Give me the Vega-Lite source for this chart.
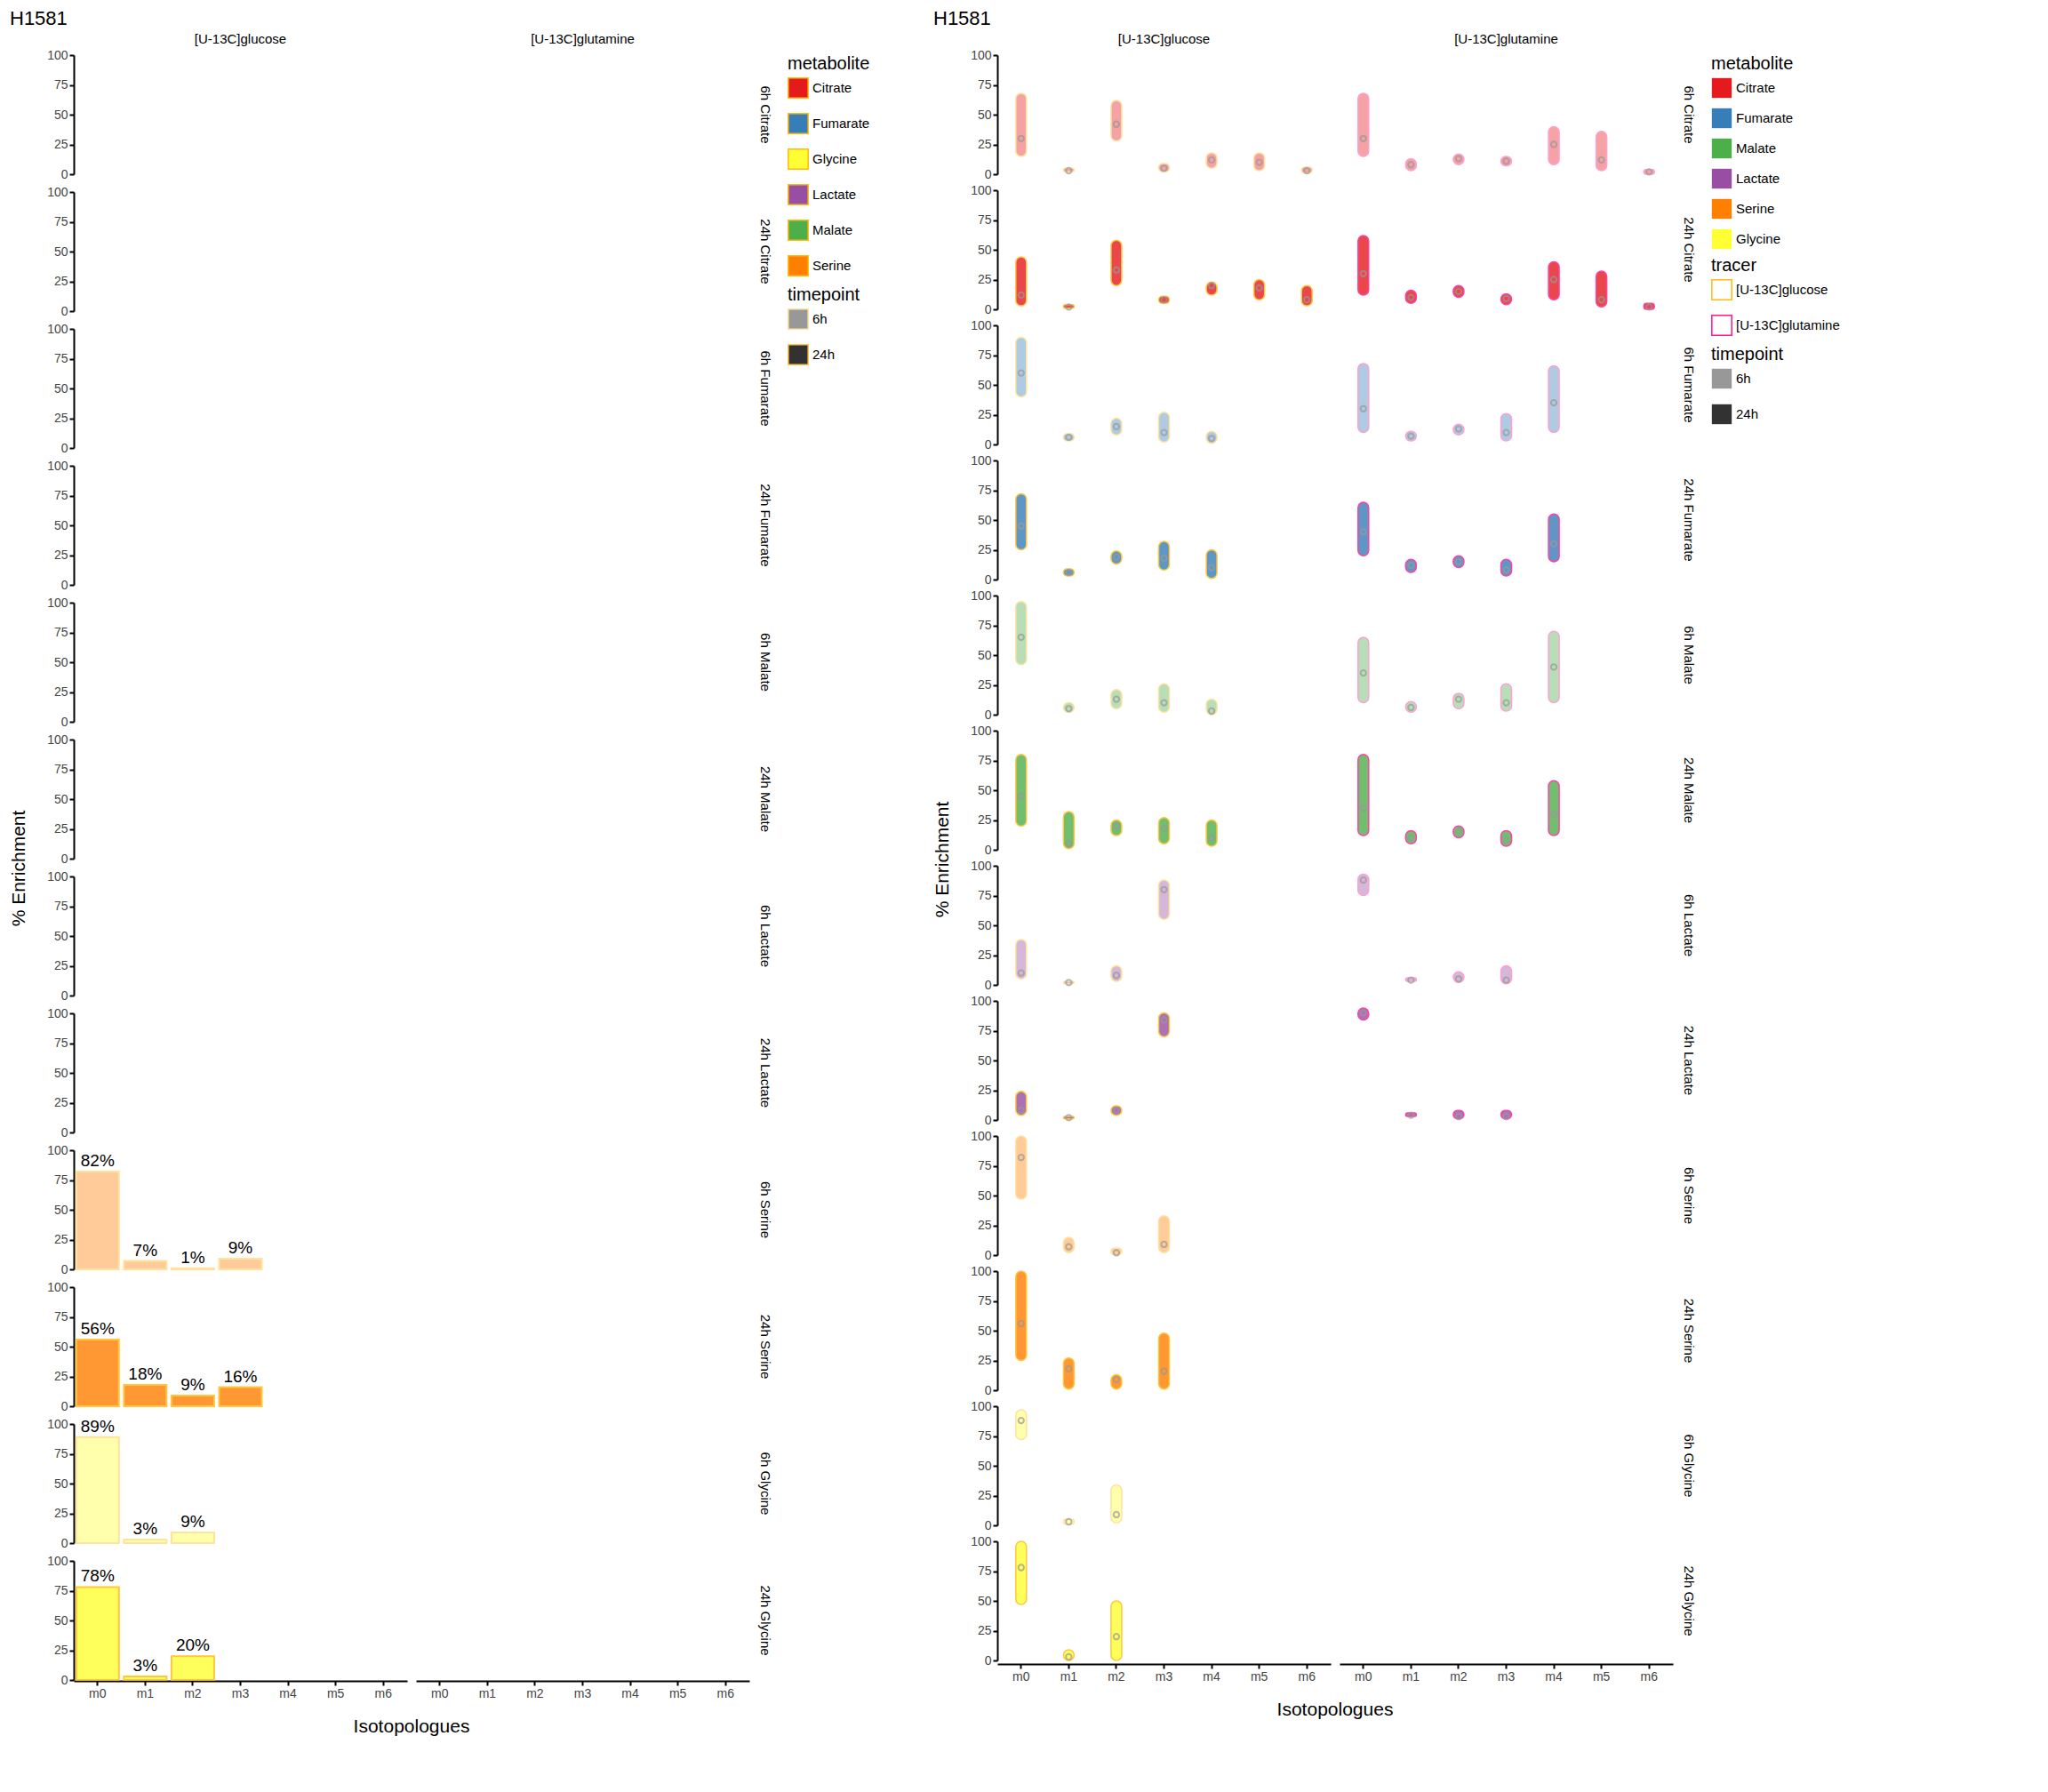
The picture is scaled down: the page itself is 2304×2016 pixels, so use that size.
{
"$schema":"https://vega.github.io/schema/vega-lite/v6.json",
"background":"white",
"padding":{"left":10,"top":10,"right":10,"bottom":5},
"config":{"font":"Liberation Sans","view":{"stroke":null},"axis":{"labelFontSize":14,"labelOverlap":false,"domainColor":"black","domainWidth":2,"tickColor":"black","tickWidth":2,"labelColor":"#444","grid":false},"axisY":{"values":[0,25,50,75,100],"tickCount":5},"legend":{"titleFontSize":20,"titleFontWeight":"normal","labelFontSize":15,"symbolSize":500,"symbolType":"square","rowPadding":10},"header":{"labelFontSize":15,"titleFontSize":21,"titleFontWeight":"normal"},"title":{"fontSize":22,"fontWeight":"normal","anchor":"start"}},
"datasets":{"d":[
{"p":"Citrate|6h","c":"[U-13C]glucose"},{"p":"Citrate|6h","c":"[U-13C]glutamine"},
{"p":"Citrate|24h","c":"[U-13C]glucose"},{"p":"Citrate|24h","c":"[U-13C]glutamine"},
{"p":"Fumarate|6h","c":"[U-13C]glucose"},{"p":"Fumarate|6h","c":"[U-13C]glutamine"},
{"p":"Fumarate|24h","c":"[U-13C]glucose"},{"p":"Fumarate|24h","c":"[U-13C]glutamine"},
{"p":"Malate|6h","c":"[U-13C]glucose"},{"p":"Malate|6h","c":"[U-13C]glutamine"},
{"p":"Malate|24h","c":"[U-13C]glucose"},{"p":"Malate|24h","c":"[U-13C]glutamine"},
{"p":"Lactate|6h","c":"[U-13C]glucose"},{"p":"Lactate|6h","c":"[U-13C]glutamine"},
{"p":"Lactate|24h","c":"[U-13C]glucose"},{"p":"Lactate|24h","c":"[U-13C]glutamine"},
{"p":"Serine|6h","c":"[U-13C]glucose"},{"p":"Serine|6h","c":"[U-13C]glutamine"},
{"p":"Serine|24h","c":"[U-13C]glucose"},{"p":"Serine|24h","c":"[U-13C]glutamine"},
{"p":"Glycine|6h","c":"[U-13C]glucose"},{"p":"Glycine|6h","c":"[U-13C]glutamine"},
{"p":"Glycine|24h","c":"[U-13C]glucose"},{"p":"Glycine|24h","c":"[U-13C]glutamine"},
{"p":"Serine|6h","c":"[U-13C]glucose","m":"Serine","t":"6h","iso":"m0","pct":82,"lab":"82%"},
{"p":"Serine|6h","c":"[U-13C]glucose","m":"Serine","t":"6h","iso":"m1","pct":7,"lab":"7%"},
{"p":"Serine|6h","c":"[U-13C]glucose","m":"Serine","t":"6h","iso":"m2","pct":1,"lab":"1%"},
{"p":"Serine|6h","c":"[U-13C]glucose","m":"Serine","t":"6h","iso":"m3","pct":9,"lab":"9%"},
{"p":"Serine|24h","c":"[U-13C]glucose","m":"Serine","t":"24h","iso":"m0","pct":56,"lab":"56%"},
{"p":"Serine|24h","c":"[U-13C]glucose","m":"Serine","t":"24h","iso":"m1","pct":18,"lab":"18%"},
{"p":"Serine|24h","c":"[U-13C]glucose","m":"Serine","t":"24h","iso":"m2","pct":9,"lab":"9%"},
{"p":"Serine|24h","c":"[U-13C]glucose","m":"Serine","t":"24h","iso":"m3","pct":16,"lab":"16%"},
{"p":"Glycine|6h","c":"[U-13C]glucose","m":"Glycine","t":"6h","iso":"m0","pct":89,"lab":"89%"},
{"p":"Glycine|6h","c":"[U-13C]glucose","m":"Glycine","t":"6h","iso":"m1","pct":3,"lab":"3%"},
{"p":"Glycine|6h","c":"[U-13C]glucose","m":"Glycine","t":"6h","iso":"m2","pct":9,"lab":"9%"},
{"p":"Glycine|24h","c":"[U-13C]glucose","m":"Glycine","t":"24h","iso":"m0","pct":78,"lab":"78%"},
{"p":"Glycine|24h","c":"[U-13C]glucose","m":"Glycine","t":"24h","iso":"m1","pct":3,"lab":"3%"},
{"p":"Glycine|24h","c":"[U-13C]glucose","m":"Glycine","t":"24h","iso":"m2","pct":20,"lab":"20%"},
{"p":"Citrate|6h","c":"[U-13C]glucose","m":"Citrate","t":"6h","iso":"m0","lo":15,"hi":68,"med":30},
{"p":"Citrate|6h","c":"[U-13C]glucose","m":"Citrate","t":"6h","iso":"m1","lo":2,"hi":5,"med":3},
{"p":"Citrate|6h","c":"[U-13C]glucose","m":"Citrate","t":"6h","iso":"m2","lo":28,"hi":62,"med":42},
{"p":"Citrate|6h","c":"[U-13C]glucose","m":"Citrate","t":"6h","iso":"m3","lo":2,"hi":9,"med":5},
{"p":"Citrate|6h","c":"[U-13C]glucose","m":"Citrate","t":"6h","iso":"m4","lo":5,"hi":18,"med":12},
{"p":"Citrate|6h","c":"[U-13C]glucose","m":"Citrate","t":"6h","iso":"m5","lo":3,"hi":18,"med":10},
{"p":"Citrate|6h","c":"[U-13C]glucose","m":"Citrate","t":"6h","iso":"m6","lo":1,"hi":6,"med":3},
{"p":"Citrate|24h","c":"[U-13C]glucose","m":"Citrate","t":"24h","iso":"m0","lo":3,"hi":44,"med":12},
{"p":"Citrate|24h","c":"[U-13C]glucose","m":"Citrate","t":"24h","iso":"m1","lo":1,"hi":4,"med":2},
{"p":"Citrate|24h","c":"[U-13C]glucose","m":"Citrate","t":"24h","iso":"m2","lo":20,"hi":58,"med":33},
{"p":"Citrate|24h","c":"[U-13C]glucose","m":"Citrate","t":"24h","iso":"m3","lo":5,"hi":11,"med":8},
{"p":"Citrate|24h","c":"[U-13C]glucose","m":"Citrate","t":"24h","iso":"m4","lo":12,"hi":23,"med":20},
{"p":"Citrate|24h","c":"[U-13C]glucose","m":"Citrate","t":"24h","iso":"m5","lo":8,"hi":25,"med":18},
{"p":"Citrate|24h","c":"[U-13C]glucose","m":"Citrate","t":"24h","iso":"m6","lo":3,"hi":20,"med":8},
{"p":"Citrate|6h","c":"[U-13C]glutamine","m":"Citrate","t":"6h","iso":"m0","lo":15,"hi":68,"med":30},
{"p":"Citrate|6h","c":"[U-13C]glutamine","m":"Citrate","t":"6h","iso":"m1","lo":3,"hi":13,"med":8},
{"p":"Citrate|6h","c":"[U-13C]glutamine","m":"Citrate","t":"6h","iso":"m2","lo":8,"hi":17,"med":13},
{"p":"Citrate|6h","c":"[U-13C]glutamine","m":"Citrate","t":"6h","iso":"m3","lo":7,"hi":15,"med":11},
{"p":"Citrate|6h","c":"[U-13C]glutamine","m":"Citrate","t":"6h","iso":"m4","lo":8,"hi":40,"med":25},
{"p":"Citrate|6h","c":"[U-13C]glutamine","m":"Citrate","t":"6h","iso":"m5","lo":3,"hi":36,"med":12},
{"p":"Citrate|6h","c":"[U-13C]glutamine","m":"Citrate","t":"6h","iso":"m6","lo":0,"hi":4,"med":2},
{"p":"Citrate|24h","c":"[U-13C]glutamine","m":"Citrate","t":"24h","iso":"m0","lo":12,"hi":62,"med":30},
{"p":"Citrate|24h","c":"[U-13C]glutamine","m":"Citrate","t":"24h","iso":"m1","lo":5,"hi":16,"med":10},
{"p":"Citrate|24h","c":"[U-13C]glutamine","m":"Citrate","t":"24h","iso":"m2","lo":10,"hi":20,"med":15},
{"p":"Citrate|24h","c":"[U-13C]glutamine","m":"Citrate","t":"24h","iso":"m3","lo":4,"hi":13,"med":9},
{"p":"Citrate|24h","c":"[U-13C]glutamine","m":"Citrate","t":"24h","iso":"m4","lo":8,"hi":40,"med":25},
{"p":"Citrate|24h","c":"[U-13C]glutamine","m":"Citrate","t":"24h","iso":"m5","lo":2,"hi":32,"med":8},
{"p":"Citrate|24h","c":"[U-13C]glutamine","m":"Citrate","t":"24h","iso":"m6","lo":0,"hi":5,"med":2},
{"p":"Fumarate|6h","c":"[U-13C]glucose","m":"Fumarate","t":"6h","iso":"m0","lo":40,"hi":90,"med":60},
{"p":"Fumarate|6h","c":"[U-13C]glucose","m":"Fumarate","t":"6h","iso":"m1","lo":3,"hi":9,"med":6},
{"p":"Fumarate|6h","c":"[U-13C]glucose","m":"Fumarate","t":"6h","iso":"m2","lo":8,"hi":22,"med":15},
{"p":"Fumarate|6h","c":"[U-13C]glucose","m":"Fumarate","t":"6h","iso":"m3","lo":2,"hi":27,"med":10},
{"p":"Fumarate|6h","c":"[U-13C]glucose","m":"Fumarate","t":"6h","iso":"m4","lo":1,"hi":11,"med":5},
{"p":"Fumarate|6h","c":"[U-13C]glutamine","m":"Fumarate","t":"6h","iso":"m0","lo":10,"hi":68,"med":30},
{"p":"Fumarate|6h","c":"[U-13C]glutamine","m":"Fumarate","t":"6h","iso":"m1","lo":3,"hi":11,"med":7},
{"p":"Fumarate|6h","c":"[U-13C]glutamine","m":"Fumarate","t":"6h","iso":"m2","lo":8,"hi":17,"med":13},
{"p":"Fumarate|6h","c":"[U-13C]glutamine","m":"Fumarate","t":"6h","iso":"m3","lo":3,"hi":26,"med":10},
{"p":"Fumarate|6h","c":"[U-13C]glutamine","m":"Fumarate","t":"6h","iso":"m4","lo":10,"hi":66,"med":35},
{"p":"Fumarate|24h","c":"[U-13C]glucose","m":"Fumarate","t":"24h","iso":"m0","lo":25,"hi":72,"med":45},
{"p":"Fumarate|24h","c":"[U-13C]glucose","m":"Fumarate","t":"24h","iso":"m1","lo":3,"hi":9,"med":6},
{"p":"Fumarate|24h","c":"[U-13C]glucose","m":"Fumarate","t":"24h","iso":"m2","lo":13,"hi":24,"med":19},
{"p":"Fumarate|24h","c":"[U-13C]glucose","m":"Fumarate","t":"24h","iso":"m3","lo":8,"hi":32,"med":18},
{"p":"Fumarate|24h","c":"[U-13C]glucose","m":"Fumarate","t":"24h","iso":"m4","lo":1,"hi":25,"med":10},
{"p":"Fumarate|24h","c":"[U-13C]glutamine","m":"Fumarate","t":"24h","iso":"m0","lo":20,"hi":65,"med":40},
{"p":"Fumarate|24h","c":"[U-13C]glutamine","m":"Fumarate","t":"24h","iso":"m1","lo":6,"hi":17,"med":12},
{"p":"Fumarate|24h","c":"[U-13C]glutamine","m":"Fumarate","t":"24h","iso":"m2","lo":10,"hi":20,"med":15},
{"p":"Fumarate|24h","c":"[U-13C]glutamine","m":"Fumarate","t":"24h","iso":"m3","lo":3,"hi":17,"med":8},
{"p":"Fumarate|24h","c":"[U-13C]glutamine","m":"Fumarate","t":"24h","iso":"m4","lo":15,"hi":55,"med":30},
{"p":"Malate|6h","c":"[U-13C]glucose","m":"Malate","t":"6h","iso":"m0","lo":42,"hi":95,"med":65},
{"p":"Malate|6h","c":"[U-13C]glucose","m":"Malate","t":"6h","iso":"m1","lo":2,"hi":10,"med":5},
{"p":"Malate|6h","c":"[U-13C]glucose","m":"Malate","t":"6h","iso":"m2","lo":5,"hi":21,"med":13},
{"p":"Malate|6h","c":"[U-13C]glucose","m":"Malate","t":"6h","iso":"m3","lo":2,"hi":26,"med":10},
{"p":"Malate|6h","c":"[U-13C]glucose","m":"Malate","t":"6h","iso":"m4","lo":0,"hi":13,"med":3},
{"p":"Malate|6h","c":"[U-13C]glutamine","m":"Malate","t":"6h","iso":"m0","lo":10,"hi":65,"med":35},
{"p":"Malate|6h","c":"[U-13C]glutamine","m":"Malate","t":"6h","iso":"m1","lo":2,"hi":11,"med":6},
{"p":"Malate|6h","c":"[U-13C]glutamine","m":"Malate","t":"6h","iso":"m2","lo":5,"hi":18,"med":13},
{"p":"Malate|6h","c":"[U-13C]glutamine","m":"Malate","t":"6h","iso":"m3","lo":3,"hi":26,"med":10},
{"p":"Malate|6h","c":"[U-13C]glutamine","m":"Malate","t":"6h","iso":"m4","lo":10,"hi":70,"med":40},
{"p":"Malate|24h","c":"[U-13C]glucose","m":"Malate","t":"24h","iso":"m0","lo":20,"hi":80,"med":45},
{"p":"Malate|24h","c":"[U-13C]glucose","m":"Malate","t":"24h","iso":"m1","lo":1,"hi":32,"med":5},
{"p":"Malate|24h","c":"[U-13C]glucose","m":"Malate","t":"24h","iso":"m2","lo":12,"hi":25,"med":20},
{"p":"Malate|24h","c":"[U-13C]glucose","m":"Malate","t":"24h","iso":"m3","lo":5,"hi":27,"med":18},
{"p":"Malate|24h","c":"[U-13C]glucose","m":"Malate","t":"24h","iso":"m4","lo":3,"hi":25,"med":10},
{"p":"Malate|24h","c":"[U-13C]glutamine","m":"Malate","t":"24h","iso":"m0","lo":12,"hi":80,"med":35},
{"p":"Malate|24h","c":"[U-13C]glutamine","m":"Malate","t":"24h","iso":"m1","lo":5,"hi":16,"med":10},
{"p":"Malate|24h","c":"[U-13C]glutamine","m":"Malate","t":"24h","iso":"m2","lo":10,"hi":20,"med":15},
{"p":"Malate|24h","c":"[U-13C]glutamine","m":"Malate","t":"24h","iso":"m3","lo":3,"hi":16,"med":8},
{"p":"Malate|24h","c":"[U-13C]glutamine","m":"Malate","t":"24h","iso":"m4","lo":12,"hi":58,"med":30},
{"p":"Lactate|6h","c":"[U-13C]glucose","m":"Lactate","t":"6h","iso":"m0","lo":5,"hi":38,"med":10},
{"p":"Lactate|6h","c":"[U-13C]glucose","m":"Lactate","t":"6h","iso":"m1","lo":1,"hi":3,"med":2},
{"p":"Lactate|6h","c":"[U-13C]glucose","m":"Lactate","t":"6h","iso":"m2","lo":3,"hi":16,"med":8},
{"p":"Lactate|6h","c":"[U-13C]glucose","m":"Lactate","t":"6h","iso":"m3","lo":55,"hi":88,"med":80},
{"p":"Lactate|6h","c":"[U-13C]glutamine","m":"Lactate","t":"6h","iso":"m0","lo":75,"hi":93,"med":88},
{"p":"Lactate|6h","c":"[U-13C]glutamine","m":"Lactate","t":"6h","iso":"m1","lo":3,"hi":6,"med":4},
{"p":"Lactate|6h","c":"[U-13C]glutamine","m":"Lactate","t":"6h","iso":"m2","lo":2,"hi":11,"med":5},
{"p":"Lactate|6h","c":"[U-13C]glutamine","m":"Lactate","t":"6h","iso":"m3","lo":1,"hi":16,"med":4},
{"p":"Lactate|24h","c":"[U-13C]glucose","m":"Lactate","t":"24h","iso":"m0","lo":4,"hi":24,"med":8},
{"p":"Lactate|24h","c":"[U-13C]glucose","m":"Lactate","t":"24h","iso":"m1","lo":1,"hi":3,"med":2},
{"p":"Lactate|24h","c":"[U-13C]glucose","m":"Lactate","t":"24h","iso":"m2","lo":4,"hi":12,"med":8},
{"p":"Lactate|24h","c":"[U-13C]glucose","m":"Lactate","t":"24h","iso":"m3","lo":70,"hi":90,"med":84},
{"p":"Lactate|24h","c":"[U-13C]glutamine","m":"Lactate","t":"24h","iso":"m0","lo":84,"hi":94,"med":90},
{"p":"Lactate|24h","c":"[U-13C]glutamine","m":"Lactate","t":"24h","iso":"m1","lo":3,"hi":6,"med":4},
{"p":"Lactate|24h","c":"[U-13C]glutamine","m":"Lactate","t":"24h","iso":"m2","lo":1,"hi":8,"med":3},
{"p":"Lactate|24h","c":"[U-13C]glutamine","m":"Lactate","t":"24h","iso":"m3","lo":1,"hi":8,"med":3},
{"p":"Serine|6h","c":"[U-13C]glucose","m":"Serine","t":"6h","iso":"m0","lo":47,"hi":100,"med":82},
{"p":"Serine|6h","c":"[U-13C]glucose","m":"Serine","t":"6h","iso":"m1","lo":2,"hi":15,"med":7},
{"p":"Serine|6h","c":"[U-13C]glucose","m":"Serine","t":"6h","iso":"m2","lo":0,"hi":6,"med":2},
{"p":"Serine|6h","c":"[U-13C]glucose","m":"Serine","t":"6h","iso":"m3","lo":2,"hi":33,"med":9},
{"p":"Serine|24h","c":"[U-13C]glucose","m":"Serine","t":"24h","iso":"m0","lo":25,"hi":100,"med":56},
{"p":"Serine|24h","c":"[U-13C]glucose","m":"Serine","t":"24h","iso":"m1","lo":1,"hi":27,"med":18},
{"p":"Serine|24h","c":"[U-13C]glucose","m":"Serine","t":"24h","iso":"m2","lo":1,"hi":13,"med":9},
{"p":"Serine|24h","c":"[U-13C]glucose","m":"Serine","t":"24h","iso":"m3","lo":1,"hi":48,"med":16},
{"p":"Glycine|6h","c":"[U-13C]glucose","m":"Glycine","t":"6h","iso":"m0","lo":72,"hi":97,"med":88},
{"p":"Glycine|6h","c":"[U-13C]glucose","m":"Glycine","t":"6h","iso":"m1","lo":1,"hi":5,"med":3},
{"p":"Glycine|6h","c":"[U-13C]glucose","m":"Glycine","t":"6h","iso":"m2","lo":2,"hi":34,"med":9},
{"p":"Glycine|24h","c":"[U-13C]glucose","m":"Glycine","t":"24h","iso":"m0","lo":47,"hi":100,"med":78},
{"p":"Glycine|24h","c":"[U-13C]glucose","m":"Glycine","t":"24h","iso":"m1","lo":0,"hi":9,"med":3},
{"p":"Glycine|24h","c":"[U-13C]glucose","m":"Glycine","t":"24h","iso":"m2","lo":0,"hi":50,"med":20}
]},
"spacing":70,
"resolve":{"scale":{"fill":"independent","stroke":"independent","opacity":"independent"},"legend":{"fill":"independent","stroke":"independent","opacity":"independent"}},
"hconcat":[
{"title":"H1581",
 "data":{"name":"d"},
 "facet":{
  "row":{"field":"p","type":"nominal","title":"% Enrichment","sort":["Citrate|6h","Citrate|24h","Fumarate|6h","Fumarate|24h","Malate|6h","Malate|24h","Lactate|6h","Lactate|24h","Serine|6h","Serine|24h","Glycine|6h","Glycine|24h"],
   "header":{"labelOrient":"right","titleOrient":"left","labelAngle":90,"labelExpr":"split(datum.value,'|')[1] + '        ' + split(datum.value,'|')[0]"}},
  "column":{"field":"c","type":"nominal","title":"Isotopologues","header":{"titleOrient":"bottom","labelOrient":"top"}}},
 "spacing":{"row":12,"column":10},
 "spec":{"width":375,"height":134,
  "layer":[
   {"mark":{"type":"bar","strokeWidth":2,"width":48},
    "encoding":{"x":{"field":"iso","type":"nominal","scale":{"domain":["m0","m1","m2","m3","m4","m5","m6"]},"axis":{"title":null,"labelAngle":0}},
     "y":{"field":"pct","type":"quantitative","stack":null,"scale":{"domain":[0,100]},"axis":{"title":null,"values":[0,25,50,75,100]}},
     "fill":{"field":"m","type":"nominal","title":"metabolite","scale":{"domain":["Citrate","Fumarate","Glycine","Lactate","Malate","Serine"],"range":["#E41A1C","#377EB8","#FFFF33","#984EA3","#4DAF4A","#FF7F00"]}},
     "stroke":{"value":"#FFB90F"},
     "opacity":{"field":"t","type":"nominal","title":"timepoint","scale":{"domain":["6h","24h"],"range":[0.4,0.8]}}}},
   {"mark":{"type":"text","dy":-12,"fontSize":19},
    "encoding":{"x":{"field":"iso","type":"nominal","scale":{"domain":["m0","m1","m2","m3","m4","m5","m6"]}},"y":{"field":"pct","type":"quantitative","stack":null,"axis":{"title":null,"values":[0,25,50,75,100]}},"text":{"field":"lab"}}}
  ]}},
{"title":"H1581",
 "data":{"name":"d"},
 "facet":{
  "row":{"field":"p","type":"nominal","title":"% Enrichment","sort":["Citrate|6h","Citrate|24h","Fumarate|6h","Fumarate|24h","Malate|6h","Malate|24h","Lactate|6h","Lactate|24h","Serine|6h","Serine|24h","Glycine|6h","Glycine|24h"],
   "header":{"labelOrient":"right","titleOrient":"left","labelAngle":90,"labelExpr":"split(datum.value,'|')[1] + '        ' + split(datum.value,'|')[0]"}},
  "column":{"field":"c","type":"nominal","title":"Isotopologues","header":{"titleOrient":"bottom","labelOrient":"top"}}},
 "spacing":{"row":12,"column":10},
 "spec":{"width":375,"height":134,
  "layer":[
   {"mark":{"type":"bar","strokeWidth":1.5,"width":12,"cornerRadius":6},
    "encoding":{"x":{"field":"iso","type":"nominal","scale":{"domain":["m0","m1","m2","m3","m4","m5","m6"]},"axis":{"title":null,"labelAngle":0}},
     "y":{"field":"lo","type":"quantitative","scale":{"domain":[0,100]},"axis":{"title":null,"values":[0,25,50,75,100]}},
     "y2":{"field":"hi"},
     "fill":{"field":"m","type":"nominal","title":"metabolite","scale":{"domain":["Citrate","Fumarate","Malate","Lactate","Serine","Glycine"],"range":["#E41A1C","#377EB8","#4DAF4A","#984EA3","#FF7F00","#FFFF33"]}},
     "stroke":{"field":"c","type":"nominal","title":"tracer","scale":{"domain":["[U-13C]glucose","[U-13C]glutamine"],"range":["#FFB90F","#FF1493"]},"legend":{"symbolFillColor":"white","symbolOpacity":1}},
     "opacity":{"field":"t","type":"nominal","title":"timepoint","scale":{"domain":["6h","24h"],"range":[0.4,0.8]}}}},
   {"mark":{"type":"point","filled":false,"size":40,"color":"#999"},
    "encoding":{"x":{"field":"iso","type":"nominal","scale":{"domain":["m0","m1","m2","m3","m4","m5","m6"]}},"y":{"field":"med","type":"quantitative","axis":{"title":null,"values":[0,25,50,75,100]}}}}
  ]}}
]}
